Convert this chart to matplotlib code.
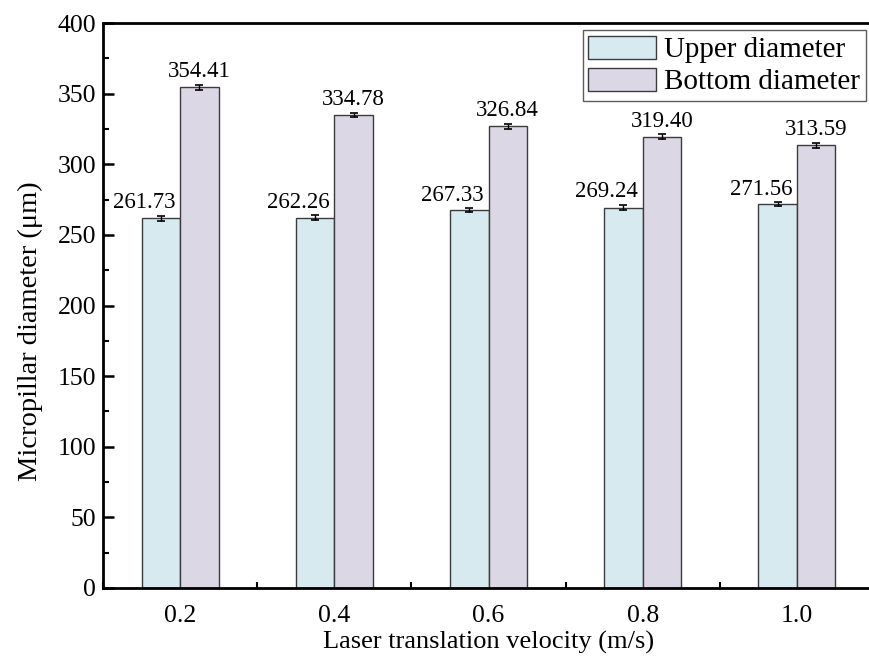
import numpy as np
import matplotlib.pyplot as plt
from matplotlib.ticker import MultipleLocator

# Micropillar diameters vs. laser translation velocity
velocities = ["0.2", "0.4", "0.6", "0.8", "1.0"]
upper_diameter = [261.73, 262.26, 267.33, 269.24, 271.56]
bottom_diameter = [354.41, 334.78, 326.84, 319.40, 313.59]
upper_err = [1.8, 1.6, 1.4, 1.8, 1.4]
bottom_err = [1.8, 1.6, 1.6, 1.8, 1.8]

plt.rcParams["font.family"] = ["Liberation Serif", "DejaVu Serif"]

fig = plt.figure(figsize=(8.69, 6.62), dpi=100)
ax = fig.add_axes([103 / 869, 74 / 662, 771 / 869, 565 / 662])

x = np.arange(len(velocities))
w = 0.25
edge = "#3c3c3c"
ax.bar(x - w / 2, upper_diameter, w, color="#d7eaf0", edgecolor=edge,
       linewidth=1.0, label="Upper diameter", zorder=2)
ax.bar(x + w / 2, bottom_diameter, w, color="#dcd7e4", edgecolor=edge,
       linewidth=1.0, label="Bottom diameter", zorder=2)
ax.errorbar(x - w / 2, upper_diameter, yerr=upper_err, fmt="none",
            ecolor="black", elinewidth=1.0, capsize=3, capthick=1.2, zorder=3)
ax.errorbar(x + w / 2, bottom_diameter, yerr=bottom_err, fmt="none",
            ecolor="black", elinewidth=1.0, capsize=3, capthick=1.2, zorder=3)

for xi, v, e in zip(x - w / 2, upper_diameter, upper_err):
    ax.annotate(f"{v:.2f}", (xi, v + e), xytext=(-12, 2),
                textcoords="offset points", ha="center", va="bottom",
                fontsize=16.5)
for xi, v, e in zip(x + w / 2, bottom_diameter, bottom_err):
    ax.annotate(f"{v:.2f}", (xi, v + e), xytext=(0, 2),
                textcoords="offset points", ha="center", va="bottom",
                fontsize=16.5)

ax.set_xlim(-0.5, len(velocities) - 0.5)
ax.set_ylim(0, 400)
ax.set_xticks(x)
ax.set_xticklabels(velocities)
ax.xaxis.set_minor_locator(MultipleLocator(1, offset=0.5))
ax.yaxis.set_major_locator(MultipleLocator(50))
ax.yaxis.set_minor_locator(MultipleLocator(25))
ax.tick_params(which="major", direction="in", length=8, width=1.8,
               labelsize=18.5)
ax.tick_params(axis="x", which="major", pad=12)
ax.tick_params(axis="y", which="major", pad=5)
ax.tick_params(which="minor", direction="in", length=4.5, width=1.5)
for side in ["left", "bottom", "top", "right"]:
    ax.spines[side].set_linewidth(2.0)

ax.set_xlabel("Laser translation velocity (m/s)", fontsize=19, labelpad=3)
ax.set_ylabel("Micropillar diameter (μm)", fontsize=20.5)
ax.yaxis.set_label_coords(-0.078, 0.455)

leg = ax.legend(loc="upper right", bbox_to_anchor=(763 / 771, 0.988),
                fontsize=21, frameon=True, fancybox=False, handlelength=2.3,
                handleheight=0.85, borderpad=0.2, labelspacing=0.15,
                handletextpad=0.3, borderaxespad=0)
leg.get_frame().set_edgecolor("#333333")
leg.get_frame().set_linewidth(1.0)

fig.savefig("out.png", dpi=100)
